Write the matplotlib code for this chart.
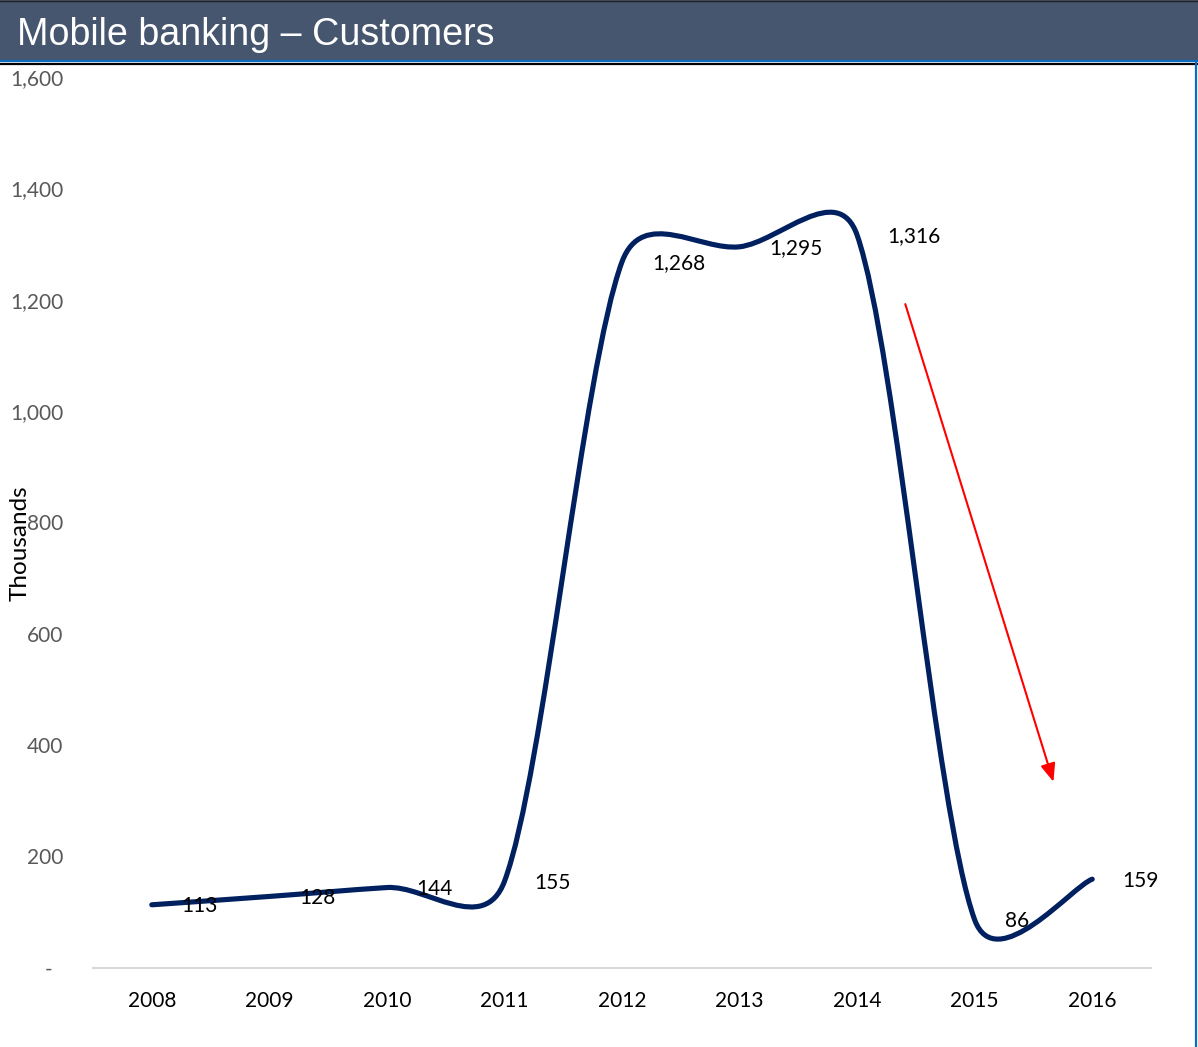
import numpy as np
import matplotlib
matplotlib.use("Agg")
from matplotlib import pyplot as plt
from matplotlib.path import Path
from matplotlib.patches import PathPatch, Rectangle
from matplotlib.lines import Line2D

# chart data (thousands of customers)
years = ["2008", "2009", "2010", "2011", "2012", "2013", "2014", "2015", "2016"]
customers = [113, 128, 144, 155, 1268, 1295, 1316, 86, 159]
value_labels = ["113", "128", "144", "155", "1,268", "1,295", "1,316", "86", "159"]
yticks = [0, 200, 400, 600, 800, 1000, 1200, 1400, 1600]
ytick_labels = ["-  ", "200", "400", "600", "800", "1,000", "1,200", "1,400", "1,600"]

# red trend arrow (index on x, thousands on y)
arrow_start = (6.41, 1192)
arrow_end = (7.67, 334)

W, H = 1198, 1047
fig = plt.figure(figsize=(W / 100, H / 100), dpi=100)
fig.patch.set_facecolor("white")

ax = fig.add_axes([93 / W, 1 - 967.7 / H, (1151 - 93) / W, (967.7 - 77) / H])
ax.set_xlim(-0.5, len(years) - 0.5)
ax.set_ylim(0, 1600)

tick_font = "Lato"
ax.set_xticks(range(len(years)))
ax.set_xticklabels(years, fontsize=15, family=tick_font, color="black")
ax.set_yticks(yticks)
ax.set_yticklabels(ytick_labels, fontsize=15, family=tick_font, color="#595959")
ax.tick_params(axis="both", length=0)
ax.tick_params(axis="x", pad=17)
ax.tick_params(axis="y", pad=21.5)
for s in ["top", "right", "left"]:
    ax.spines[s].set_visible(False)
ax.spines["bottom"].set_color("#D9D9D9")
ax.spines["bottom"].set_linewidth(1.5)


# smoothed line like Excel's "smoothed line" option (bezier through the points)
def excel_smooth_path(ax, xs, ys):
    pts = ax.transData.transform(np.column_stack([xs, ys]))
    n = len(pts)
    verts = [pts[0]]
    codes = [Path.MOVETO]
    for i in range(n - 1):
        p0 = pts[i - 1] if i > 0 else pts[i]
        p1 = pts[i]
        p2 = pts[i + 1]
        p3 = pts[i + 2] if i + 2 < n else pts[i + 1]
        d12 = np.hypot(*(p2 - p1))
        a1 = (p2 - p0) / 6
        a2 = (p3 - p1) / 6
        for a in (a1, a2):
            la = np.hypot(*a)
            if la > d12 / 2:
                a *= (d12 / 2) / la
        verts += [p1 + a1, p2 - a2, p2]
        codes += [Path.CURVE4] * 3
    inv = ax.transData.inverted()
    return Path(inv.transform(np.array(verts)), codes)


xs = np.arange(len(years))
path = excel_smooth_path(ax, xs, customers)
ax.add_patch(PathPatch(path, facecolor="none", edgecolor="#002060", lw=3.7,
                       capstyle="round", joinstyle="round", zorder=3))

for x, v, lab in zip(xs, customers, value_labels):
    ax.annotate(lab, (x, v), xytext=(21.5, -1), textcoords="offset points",
                ha="left", va="center", fontsize=15, family=tick_font,
                color="black", zorder=4)

ax.annotate("", xy=arrow_end, xytext=arrow_start,
            arrowprops=dict(arrowstyle="-|>,head_length=1.1,head_width=0.45",
                            color="red", lw=1.5, shrinkA=0, shrinkB=0,
                            mutation_scale=10))

fig.text(20 / W, 1 - 543 / H, "Thousands", rotation=90, ha="center", va="center",
         fontsize=17.5, family=tick_font, color="black")

# title banner
fig.patches.append(Rectangle((0, 1 - 60 / H), 1, 60 / H, transform=fig.transFigure,
                             facecolor="#46566E", edgecolor="none", zorder=0))
fig.lines.append(Line2D([0, 1], [1 - 61 / H, 1 - 61 / H], transform=fig.transFigure,
                        color="#0B6BC0", lw=1.6))
fig.lines.append(Line2D([0, 1], [1 - 63.5 / H, 1 - 63.5 / H], transform=fig.transFigure,
                        color="black", lw=1.6))
fig.lines.append(Line2D([1196 / W, 1196 / W], [0, 1 - 61 / H], transform=fig.transFigure,
                        color="#0B6BC0", lw=1.6))
fig.lines.append(Line2D([0, 1], [1 - 0.5 / H, 1 - 0.5 / H], transform=fig.transFigure,
                        color="#222222", lw=1))
fig.text(17 / W, 1 - 35 / H, "Mobile banking \u2013 Customers", ha="left", va="center",
         fontsize=27.1, family="Liberation Sans", color="white")

fig.savefig("out.png", dpi=100)
